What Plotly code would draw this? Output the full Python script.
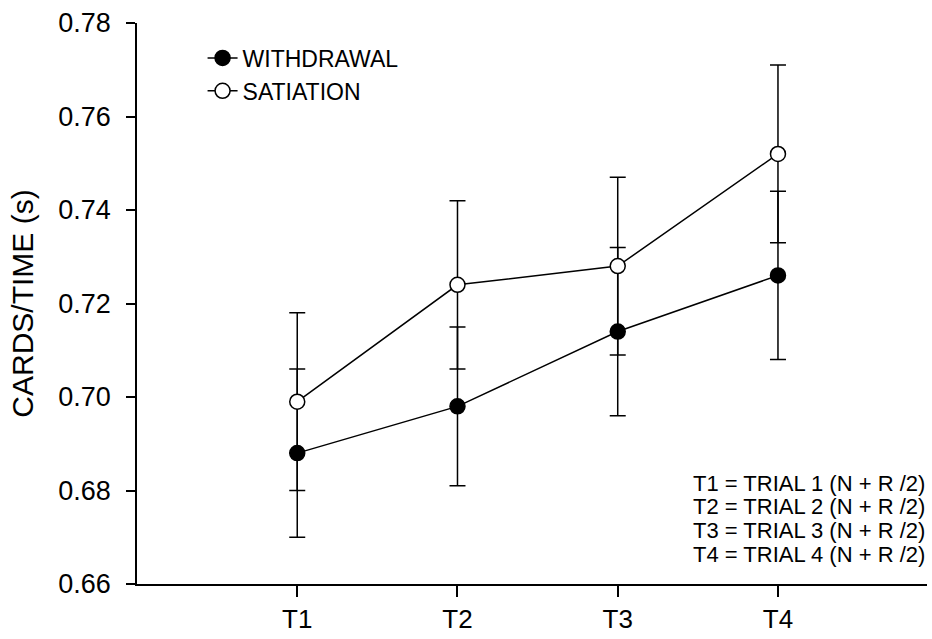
import plotly.graph_objects as go

trials = [1, 2, 3, 4]
trial_labels = ["T1", "T2", "T3", "T4"]
withdrawal = [0.688, 0.698, 0.714, 0.726]
withdrawal_err = [0.018, 0.017, 0.018, 0.018]
satiation = [0.699, 0.724, 0.728, 0.752]
satiation_err = [0.019, 0.018, 0.019, 0.019]
y_ticks = [0.66, 0.68, 0.70, 0.72, 0.74, 0.76, 0.78]
notes = ["T1 = TRIAL 1 (N + R /2)", "T2 = TRIAL 2 (N + R /2)",
         "T3 = TRIAL 3 (N + R /2)", "T4 = TRIAL 4 (N + R /2)"]
note_y = [0.6814, 0.6765, 0.6714, 0.6664]

FONT = "Liberation Sans, Arial, sans-serif"

fig = go.Figure()
fig.add_trace(go.Scatter(
    x=trials, y=withdrawal, name="WITHDRAWAL", mode="lines+markers",
    line=dict(color="black", width=1.5),
    marker=dict(symbol="circle", size=15, color="black", line=dict(color="black", width=1.5)),
    error_y=dict(type="data", array=withdrawal_err, visible=True, color="black", thickness=1.5, width=8),
))
fig.add_trace(go.Scatter(
    x=trials, y=satiation, name="SATIATION", mode="lines+markers",
    line=dict(color="black", width=1.5),
    marker=dict(symbol="circle", size=15, color="white", line=dict(color="black", width=1.5)),
    error_y=dict(type="data", array=satiation_err, visible=True, color="black", thickness=1.5, width=8),
))

for txt, yy in zip(notes, note_y):
    fig.add_annotation(x=1, xref="paper", xanchor="right", y=yy, yref="y", yanchor="middle",
                       text=txt, showarrow=False, font=dict(family=FONT, size=22, color="black"))

fig.update_layout(
    width=932, height=639,
    margin=dict(l=137, r=5, t=23, b=48),
    paper_bgcolor="white", plot_bgcolor="white",
    font=dict(family=FONT, color="black"),
    showlegend=True,
    legend=dict(x=0.083, y=0.976, xanchor="left", yanchor="top",
                font=dict(family=FONT, size=23, color="black"),
                bgcolor="rgba(0,0,0,0)", tracegroupgap=0, itemwidth=30),
    xaxis=dict(range=[0, 4.93], tickvals=trials, ticktext=trial_labels,
               showline=True, linecolor="black", linewidth=1.5,
               ticks="outside", ticklen=11, tickwidth=1.5, tickcolor="black",
               showgrid=False, zeroline=False,
               tickfont=dict(family=FONT, size=26, color="black")),
    yaxis=dict(range=[0.66, 0.78], tickvals=y_ticks, tickformat=".2f",
               showline=True, linecolor="black", linewidth=1.5,
               ticks="outside", ticklen=9, tickwidth=1.5, tickcolor="black",
               ticklabelstandoff=10,
               showgrid=False, zeroline=False,
               tickfont=dict(family=FONT, size=27, color="black"),
               title=dict(text="CARDS/TIME (s)", font=dict(family=FONT, size=30, color="black"), standoff=16)),
)

fig.write_html("out.html", config={"displayModeBar": False},
               post_script="document.body.style.margin='0px';")
